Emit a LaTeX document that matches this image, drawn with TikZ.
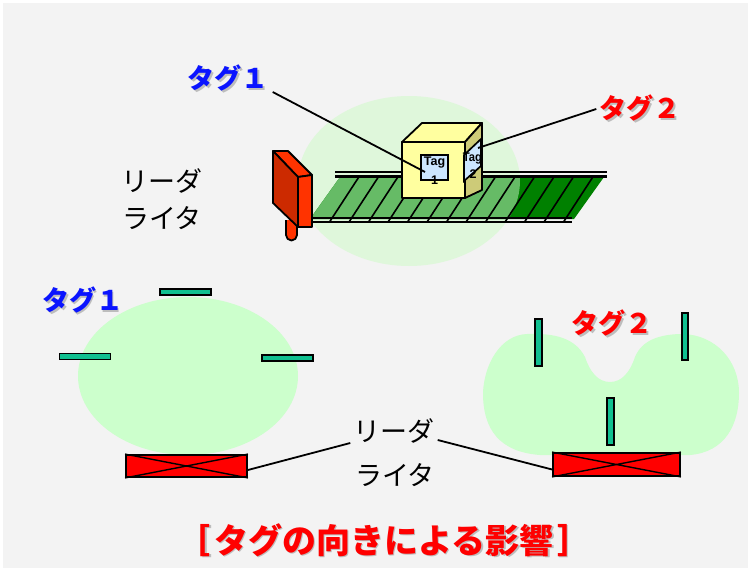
\documentclass[tikz,border=0pt]{standalone}
\usepackage{fontspec}
\newfontfamily\jp{Noto Sans CJK JP}
\newfontfamily\lat{Liberation Sans}
\definecolor{bggrey}{HTML}{F3F3F3}
\definecolor{zonepale}{HTML}{DFF7DB}
\definecolor{zone}{HTML}{CCFFCC}
\definecolor{beltdark}{HTML}{008000}
\definecolor{beltlight}{HTML}{66BB66}
\definecolor{devfront}{HTML}{CC2A00}
\definecolor{devside}{HTML}{FF3300}
\definecolor{boxfront}{HTML}{FFFF9F}
\definecolor{boxside}{HTML}{CDCB78}
\definecolor{tagblue}{HTML}{CCE6FF}
\definecolor{teal}{HTML}{10C090}
\definecolor{lblue}{HTML}{0A14FF}
\definecolor{lred}{HTML}{FF0000}
\definecolor{shade}{HTML}{BDBDBD}
\tikzset{
  edge/.style={draw=black, line width=1.8pt, line join=round},
  lead/.style={draw=black, line width=1.8pt},
  rail/.style={draw=black, line width=2.2pt},
  slat/.style={draw=black, line width=1.6pt},
  tagbar/.style={fill=teal, draw=black, line width=1.6pt, inner sep=0pt},
  readerbar/.style={fill=red, draw=black, line width=1.8pt, inner sep=0pt},
  tagface/.style={fill=tagblue, draw=black, line width=1.7pt},
  tagtext/.style={font=\lat\bfseries\fontsize{12.5}{13}\selectfont, inner sep=0pt},
  bigjp/.style={font=\jp\bfseries\fontsize{27}{30}\selectfont, inner sep=2pt},
  rwtext/.style={font=\jp\fontsize{27}{30}\selectfont, inner sep=2pt},
  titletext/.style={font=\jp\bfseries\fontsize{34}{36}\selectfont, inner sep=2pt},
}
\newcommand{\captiontext}{［\hspace{4pt}タグの向きによる影響\hspace{4pt}］}
\begin{document}
\begin{tikzpicture}[x=1pt,y=-1pt]
\useasboundingbox (0,0) rectangle (748,568);
\fill[white] (0,0) rectangle (748,568);
\fill[bggrey] (3,3) rectangle (748,568);

% ---------------- conveyor scene ----------------
\fill[zonepale] (409,181) ellipse [x radius=111, y radius=85];
% belt: dark outside the read zone, lighter inside it
\fill[beltdark] (340,177) -- (604,177) -- (574,219) -- (310,219) -- cycle;
\begin{scope}
  \clip (409,181) ellipse [x radius=111, y radius=85];
  \fill[beltlight] (340,177) -- (604,177) -- (574,219) -- (310,219) -- cycle;
\end{scope}
\foreach \k in {1,...,13}{
  \draw[slat] ({340+19.5*\k},176) -- ({310+19.5*\k},222);
}
\draw[rail] (335,172) -- (607,172);
\draw[rail] (335,176.5) -- (607,176.5);
\draw[rail] (305,218) -- (572,218);
\draw[rail] (305,222) -- (572,222);

% reader/writer antenna on its post
\draw[edge, fill=devside] (286,220) -- (286,235) arc[start angle=180, end angle=0, radius=5.5] -- (297,220);
\draw[edge, fill=devside] (273,151) -- (288,151) -- (312,175) -- (298,177) -- cycle;
\draw[edge, fill=devfront] (273,151) -- (298,177) -- (298,227) -- (273,203) -- cycle;
\draw[edge, fill=devside] (298,177) -- (312,175) -- (312,227) -- (298,227) -- cycle;

% parcel carrying two tags
\draw[edge, fill=boxfront] (402,142) -- (422,123) -- (482,123) -- (465,142) -- cycle;
\draw[edge, fill=boxside] (465,142) -- (482,123) -- (482,190) -- (465,198) -- cycle;
\draw[edge, fill=boxfront] (402,142) rectangle (465,198);
\node[tagface, minimum width=27pt, minimum height=25pt, inner sep=0pt] (tg1box) at (434.5,167.5) {};
\node[tagtext] (tg1a) at (434.5,163) {Tag};
\node[tagtext] (tg1b) at (434.5,180) {1};
\draw[tagface] (464,155) -- (481,139) -- (481,166) -- (464,181) -- cycle;
\node[tagtext, xscale=0.9] (tg2a) at (472.5,158.5) {Tag};
\node[tagtext] (tg2b) at (473,174) {2};
\coordinate (pin1) at (425,172);
\coordinate (pin2) at (478,148);

% labels of the conveyor scene
\node[bigjp, text=shade] (lt1s) at (229.5,80) {タグ１};
\node[bigjp, text=lblue] (lt1) at (228,78) {タグ１};
\node[bigjp, text=shade] (lt2s) at (641.5,110) {タグ２};
\node[bigjp, text=lred] (lt2) at (640,108) {タグ２};
\draw[lead] ([xshift=2pt,yshift=-14pt]lt1.east) -- (pin1);
\draw[lead] ([xshift=-1pt,yshift=-1pt]lt2.west) -- (pin2);
\node[rwtext] (rwa) at (162,181) {リーダ};
\node[rwtext] (rwb) at (162,218) {ライタ};

% ---------------- horizontal tag ----------------
\fill[zone] (188,376) ellipse [x radius=110, y radius=79];
\node[tagbar, minimum width=51pt, minimum height=6pt] (h1) at (185.5,292) {};
\node[tagbar, minimum width=51pt, minimum height=6pt] (h2) at (85,356.5) {};
\node[tagbar, minimum width=51pt, minimum height=6pt] (h3) at (287.5,358) {};
\node[readerbar, minimum width=121pt, minimum height=22pt] (rd1) at (186.5,466) {};
\draw[black, line width=1.4pt] (rd1.north west) -- (rd1.south east) (rd1.south west) -- (rd1.north east);
\node[bigjp, text=shade] (lt3s) at (84.5,302) {タグ１};
\node[bigjp, text=lblue] (lt3) at (83,300) {タグ１};

% ---------------- vertical tag ----------------
\fill[zone] (585,357) .. controls (575,338) and (555,333) .. (527,334)
  .. controls (500,335) and (484,365) .. (483,393)
  .. controls (483,430) and (500,452) .. (540,455)
  -- (690,455)
  .. controls (725,452) and (739,425) .. (739,393)
  .. controls (739,360) and (715,335) .. (683,334)
  .. controls (660,334) and (642,340) .. (635,357)
  .. controls (630,372) and (622,382) .. (610,382)
  .. controls (598,382) and (590,372) .. (585,357) -- cycle;
\node[tagbar, minimum width=6.5pt, minimum height=47pt] (v1) at (538.5,342.5) {};
\node[tagbar, minimum width=6pt, minimum height=47pt] (v2) at (685,336.5) {};
\node[tagbar, minimum width=6.5pt, minimum height=47pt] (v3) at (610.5,421.5) {};
\node[readerbar, minimum width=127pt, minimum height=23pt] (rd2) at (616.5,464.5) {};
\draw[black, line width=1.4pt] (rd2.north west) -- (rd2.south east) (rd2.south west) -- (rd2.north east);
\node[bigjp, text=shade] (lt4s) at (613.5,325) {タグ２};
\node[bigjp, text=lred] (lt4) at (612,323) {タグ２};

% shared reader/writer label
\node[rwtext] (rwc) at (394,431) {リーダ};
\node[rwtext] (rwd) at (395,475) {ライタ};
\draw[lead] ([yshift=-4pt]rd1.east) -- ([xshift=-1pt,yshift=-12pt]rwc.west);
\draw[lead] ([xshift=1pt,yshift=-9pt]rwc.east) -- ([yshift=-5pt]rd2.west);

% caption
\node[titletext, text=shade] (caps) at (385.5,541.5) {\captiontext};
\node[titletext, text=lred] (cap) at (384,540) {\captiontext};
\end{tikzpicture}
\end{document}
